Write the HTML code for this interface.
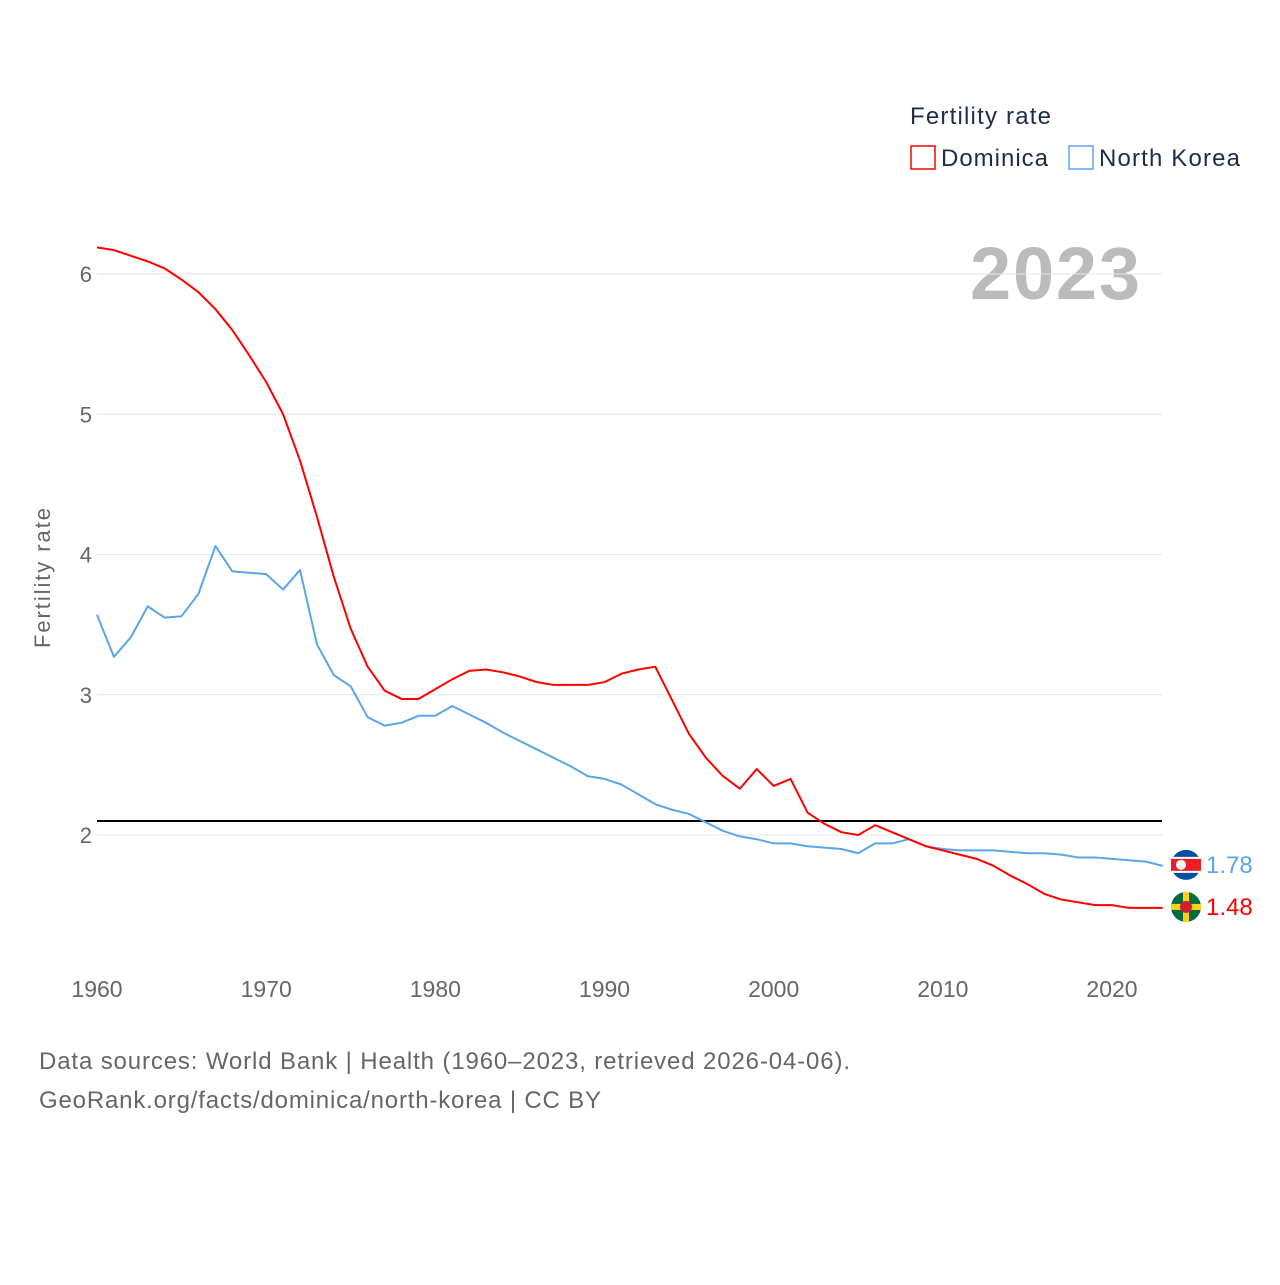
<!DOCTYPE html>
<html><head><meta charset="utf-8"><style>
body{margin:0;background:#fff;font-family:"Liberation Sans",sans-serif;}
svg text{font-family:"Liberation Sans",sans-serif;}
</style></head><body>
<svg id="chart" width="1280" height="1280" viewBox="0 0 1280 1280">
<text x="910" y="124" font-size="24" fill="#1a2e4a" textLength="141">Fertility rate</text>
<g><rect x="911" y="146" width="24" height="23" fill="none" stroke="#f00" stroke-width="1.5"/><text x="941" y="166" font-size="24" fill="#1a2e4a" textLength="107">Dominica</text></g>
<g><rect x="1069" y="146" width="24" height="23" fill="none" stroke="#5aa5ec" stroke-width="1.5"/><text x="1099" y="166" font-size="24" fill="#1a2e4a" textLength="141">North Korea</text></g>
<text x="1140" y="299" font-size="74" font-weight="bold" fill="#bbb" text-anchor="end" textLength="170">2023</text>
<text transform="translate(50,578) rotate(-90)" font-size="22" fill="#666" text-anchor="middle" textLength="140">Fertility rate</text>
<g id="grid"></g><g id="series"></g>
<g>
<text x="39" y="1069" font-size="24" fill="#666" textLength="811">Data sources: World Bank | Health (1960–2023, retrieved 2026-04-06).</text>
<text x="39" y="1108" font-size="24" fill="#666" textLength="562">GeoRank.org/facts/dominica/north-korea | CC BY</text></g>
</svg>
<script>
const years=[];for(let y=1960;y<=2023;y++)years.push(y);
const dominica=[6.19,6.17,6.13,6.09,6.04,5.96,5.87,5.75,5.60,5.42,5.23,5.00,4.67,4.27,3.84,3.47,3.20,3.03,2.97,2.97,3.04,3.11,3.17,3.18,3.16,3.13,3.09,3.07,3.07,3.07,3.09,3.15,3.18,3.20,2.96,2.72,2.55,2.42,2.33,2.47,2.35,2.40,2.16,2.08,2.02,2.00,2.07,2.02,1.97,1.92,1.89,1.86,1.83,1.78,1.71,1.65,1.58,1.54,1.52,1.50,1.50,1.48,1.48,1.48];
const northKorea=[3.57,3.27,3.41,3.63,3.55,3.56,3.72,4.06,3.88,3.87,3.86,3.75,3.89,3.36,3.14,3.06,2.84,2.78,2.80,2.85,2.85,2.92,2.86,2.80,2.73,2.67,2.61,2.55,2.49,2.42,2.40,2.36,2.29,2.22,2.18,2.15,2.09,2.03,1.99,1.97,1.94,1.94,1.92,1.91,1.90,1.87,1.94,1.94,1.97,1.92,1.90,1.89,1.89,1.89,1.88,1.87,1.87,1.86,1.84,1.84,1.83,1.82,1.81,1.78];
const yTicks=[2,3,4,5,6];
const xTicks=[1960,1970,1980,1990,2000,2010,2020];
const replacement=[2.1];
const NS="http://www.w3.org/2000/svg";
const X=y=>97+(y-1960)*1015/60;
const Y=v=>274+(6-v)*140.25;
function el(t,a,p){const e=document.createElementNS(NS,t);for(const k in a)e.setAttribute(k,a[k]);p.appendChild(e);return e;}
const g=document.getElementById('grid'),s=document.getElementById('series');
yTicks.forEach(v=>{
 const l=el('line',{x1:97,x2:1162,y1:Y(v),y2:Y(v),stroke:'#e6e6e6','stroke-width':1},g);
 
 
 const t=el('text',{x:92,y:Y(v)+8,'font-size':22,fill:'#666','text-anchor':'end'},g);t.textContent=v;
 
 
});
xTicks.forEach(v=>{
 const t=el('text',{x:X(v),y:997,'font-size':23,fill:'#666','text-anchor':'middle'},g);t.textContent=v;
 
 
});
replacement.forEach(v=>{
 const l=el('line',{x1:97,x2:1162,y1:Y(v),y2:Y(v),stroke:'#000','stroke-width':2},g);
 
 
});
function line(vals,color,name){
 const p=el('polyline',{points:vals.map((v,i)=>X(years[i])+','+Y(v)).join(' '),fill:'none',stroke:color,'stroke-width':2,'stroke-linejoin':'round'},s);
 
 
}
line(northKorea,'#5aa5ec','north-korea-line');
line(dominica,'#f00','dominica-line');
const nkV=northKorea[northKorea.length-1],dmV=dominica[dominica.length-1];
const nk=el('g',{},s);


const ny=Y(nkV)-1;
el('circle',{cx:1186,cy:ny,r:15,fill:'#024fa2'},nk);
el('rect',{x:1171,y:ny-8,width:30,height:16,fill:'#fff'},nk);
el('rect',{x:1171,y:ny-6,width:30,height:12,fill:'#ed1c27'},nk);
el('circle',{cx:1181,cy:ny,r:5,fill:'#fff'},nk);
const nt=el('text',{x:1206,y:ny+8,'font-size':24,fill:'#5aa5ec'},s);nt.textContent=nkV.toFixed(2);


const dm=el('g',{},s);


const dy=Y(dmV)-1;
el('circle',{cx:1186,cy:dy,r:15,fill:'#006b3f'},dm);
el('rect',{x:1171,y:dy-3,width:30,height:6,fill:'#fcd116'},dm);
el('rect',{x:1183,y:dy-15,width:6,height:30,fill:'#fcd116'},dm);
el('circle',{cx:1186,cy:dy,r:6,fill:'#d41c30'},dm);
const dt=el('text',{x:1206,y:dy+8,'font-size':24,fill:'#f00'},s);dt.textContent=dmV.toFixed(2);


</script>
</body></html>
